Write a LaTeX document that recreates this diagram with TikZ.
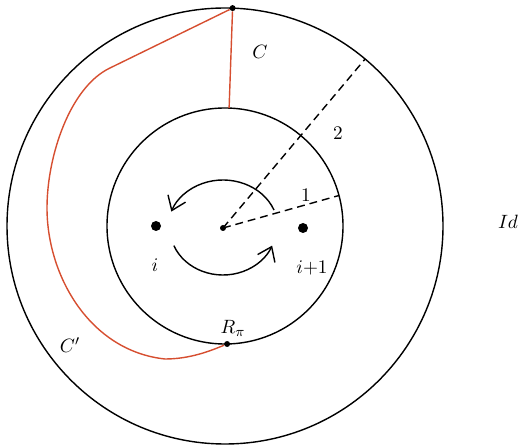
\documentclass[tikz,border=0pt,11pt]{standalone}
\usepackage{tikz}
\usetikzlibrary{arrows.meta}

\definecolor{curvered}{RGB}{214,78,48}

\begin{document}
\begin{tikzpicture}[x=0.02cm,y=0.02cm,
  ring/.style={line width=0.8pt},
  cut/.style={line width=0.8pt, dash pattern=on 4.5pt off 2.8pt},
  redcurve/.style={curvered, line width=0.8pt},
  turn/.style={line width=0.8pt, -{Straight Barb[length=2.6mm,width=3.8mm]}},
  puncture/.style={circle, fill=black, inner sep=0pt, minimum size=0.2cm},
  smalldot/.style={circle, fill=black, inner sep=0pt, minimum size=0.12cm}]
\useasboundingbox (0,0) rectangle (520,446);
% the two boundary circles
\coordinate (O) at (225,220);
\draw [ring] (O) circle (218);
\draw [ring] (O) circle (118);
% marked points
\node (ctr) at (223,218) [smalldot] {};
\node (top) at (232.6,437.9) [smalldot] {};
\node (bot) at (227.1,102.0) [smalldot] {};
\node (pi) at (156,220) [puncture] {};
\node (pj) at (303,218) [puncture] {};
\coordinate (cin) at (229.1,337.9);
\coordinate (rayout) at (365.1,387.0);
\coordinate (rayin) at (339.0,250.5);
% dashed radii
\draw [cut] (ctr.center) -- (rayout);
\draw [cut] (ctr.center) -- (rayin);
% half twist
\draw [turn] (ctr.center) ++(22:55 and 48) arc [start angle=22, end angle=160, x radius=55, y radius=48];
\draw [turn] (ctr.center) ++(202:53 and 47) arc [start angle=202, end angle=338, x radius=53, y radius=47];
% the curves C and C'
\draw [redcurve] (top) -- (cin);
\draw [redcurve] (top) -- (110,378) .. controls (70,359) and (47,290) .. (47,238)
  .. controls (47,170) and (90,95) .. (165,87) .. controls (190,87) and (210,95) .. (bot);
% labels
\node (lc) at (260,394) {$C$};
\node (lcp) at (70,101) {$C'$};
\node (lr) at (233,118) {$R_\pi$};
\node (li) at (155,181) {$i$};
\node (lj) at (312,178) {$i{+}1$};
\node (lone) at (306,251) {1};
\node (ltwo) at (338,313) {2};
\node (lid) at (508,224) {$Id$};
\end{tikzpicture}
\end{document}
